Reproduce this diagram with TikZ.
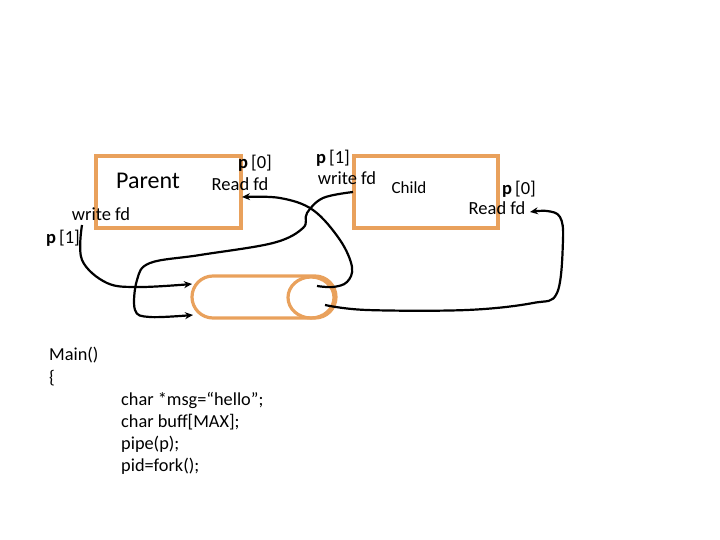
\documentclass[tikz,border=0pt]{standalone}
\usepackage{fontspec}
\setmainfont{Carlito}
\usetikzlibrary{arrows.meta}
\definecolor{boxorange}{HTML}{E9A15C}

\tikzset{
  procbox/.style={draw=boxorange,line width=3.2pt},
  fdlabel/.style={font=\fontsize{18.5}{20}\selectfont,inner sep=0pt},
  wire/.style={black,line width=2.2pt,-{Stealth[length=8pt,width=7pt]}},
  codeline/.style={font=\fontsize{18.3}{20}\selectfont,anchor=west,inner sep=0pt}
}

\begin{document}
\begin{tikzpicture}[x=1pt,y=-1pt]
  \useasboundingbox (0,0) rectangle (720,540);

  % Parent process
  \draw[procbox] (96,156) rectangle (241,228);
  \node[font=\fontsize{24}{26}\selectfont,inner sep=0pt] (parent) at (148,181) {Parent};
  \node[fdlabel] (parp0) at (255,163) {\textbf{p}\,[0]};
  \node[fdlabel] (parrd) at (240,184) {Read fd};
  \node[fdlabel] (parwr) at (101,214) {write fd};
  \node[fdlabel] (parp1) at (63,238) {\textbf{p}\,[1]};

  % Child process
  \draw[procbox] (354,156) rectangle (498,228);
  \node[font=\fontsize{17}{19}\selectfont,inner sep=0pt] (child) at (409,188) {Child};
  \node[fdlabel] (chp1) at (333,158) {\textbf{p}\,[1]};
  \node[fdlabel] (chwr) at (347,178) {write fd};
  \node[fdlabel] (chp0) at (519,189) {\textbf{p}\,[0]};
  \node[fdlabel] (chrd) at (497,208) {Read fd};

  % Pipe
  \draw[procbox,rounded corners=21pt] (192,276) rectangle (336,318);
  \draw[procbox] (311,297.5) ellipse [x radius=23,y radius=20.5];

  % ends of the wires
  \coordinate (pipeinA) at (192,284);
  \coordinate (pipeinB) at (193,315);
  \coordinate (pipeoutA) at (317,286);
  \coordinate (pipeoutB) at (325,305);
  \coordinate (parin) at (242,197);
  \coordinate (chin) at (530,212);

  % Parent write -> pipe
  \draw[wire] plot[smooth,tension=0.6] coordinates {(82,225) (82,260) (107,283) (140,287) (pipeinA)};
  % Child write -> pipe
  \draw[wire] plot[smooth,tension=0.6] coordinates {(353,192) (323,198) (307,213) (303,228) (273,243) (200,255) (150,263) (137,280) (135,310) (150,317) (pipeinB)};
  % pipe -> Parent read
  \draw[wire] plot[smooth,tension=0.6] coordinates {(pipeoutA) (333,287) (347,282) (352,267) (340,240) (313,210) (280,198) (parin)};
  % pipe -> Child read
  \draw[wire] plot[smooth,tension=0.6] coordinates {(pipeoutB) (367,310) (467,310) (533,303) (557,293) (563,240) (560,217) (547,211) (chin)};

  % Code
  \node[codeline] (mainhd) at (49,355) {Main()};
  \node[codeline] (brace) at (49,378) {\{};
  \node[codeline] (code1) at (121,400) {char *msg=“hello”;};
  \node[codeline] (code2) at (121,422) {char buff[MAX];};
  \node[codeline] (code3) at (121,444) {pipe(p);};
  \node[codeline] (code4) at (121,466) {pid=fork();};
\end{tikzpicture}
\end{document}
